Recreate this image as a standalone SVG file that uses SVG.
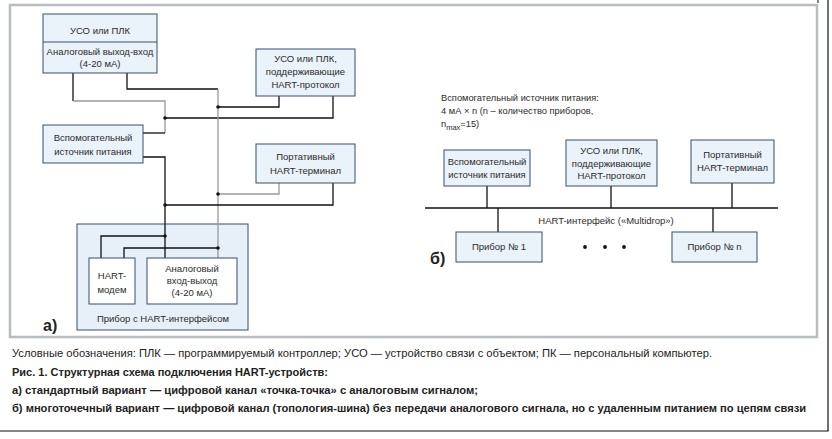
<svg xmlns="http://www.w3.org/2000/svg" width="832" height="439" viewBox="0 0 832 439">
<style>
.box{fill:#eaf2fa;stroke:#34506c;stroke-width:1}
.wbox{fill:#ffffff;stroke:#34506c;stroke-width:1}
.dev{fill:#e7f0f8;stroke:#34506c;stroke-width:1}
.t{font-family:"Liberation Sans",Arial,sans-serif;font-size:9.5px;fill:#2b2b2b;text-anchor:middle}
.tl{font-family:"Liberation Sans",Arial,sans-serif;font-size:9.3px;fill:#2b2b2b}
.lbl{font-family:"Liberation Sans Narrow","Liberation Sans",Arial,sans-serif;font-size:16px;font-weight:bold;fill:#222}
.k{fill:none;stroke:#111;stroke-width:1.3}
.g{fill:none;stroke:#9a9a9a;stroke-width:1.3}
.dot{fill:#111}
.cap{font-family:"Liberation Sans Narrow","Liberation Sans",Arial,sans-serif;font-size:11.5px;fill:#222}
.capb{font-family:"Liberation Sans Narrow","Liberation Sans",Arial,sans-serif;font-size:11px;font-weight:bold;fill:#222}
</style>
<rect x="0" y="0" width="832" height="439" fill="#ffffff"/>
<rect x="10" y="5" width="807" height="332" fill="#ffffff" stroke="#b8bdc2" stroke-width="2.5"/>
<line x1="828" y1="0" x2="828" y2="431" stroke="#111" stroke-width="1.2"/>
<line x1="0" y1="431" x2="828.6" y2="431" stroke="#111" stroke-width="1.2"/>
<line x1="818" y1="0" x2="818" y2="3" stroke="#111" stroke-width="1"/>

<g id="device-a">
<rect class="dev" x="77" y="224" width="171" height="106"/>
<text class="t" x="163" y="322">Прибор с HART-интерфейсом</text>
</g>

<g id="connectors">
<path class="k" d="M73,73 V101"/>
<path class="g" d="M73,101 H165 V133"/>
<path class="k" d="M165,133 H143"/>
<path class="k" d="M165,118 H333 V96"/>
<path class="k" d="M127,73 V89 H218"/>
<path class="g" d="M218,89 V258"/>
<path class="k" d="M218,107 H279 V96"/>
<path class="g" d="M218,194 H279 V183"/>
<path class="k" d="M143,157 H165 V258"/>
<path class="k" d="M165,205 H333 V183"/>
<path class="k" d="M165,236 H101 V258"/>
<path class="k" d="M218,248 H124 V258"/>
<circle class="dot" cx="165" cy="118" r="1.8"/>
<circle class="dot" cx="218" cy="107" r="1.8"/>
<circle class="dot" cx="218" cy="194" r="1.8"/>
<circle class="dot" cx="165" cy="205" r="1.8"/>
<circle class="dot" cx="165" cy="236" r="1.8"/>
<circle class="dot" cx="218" cy="248" r="1.8"/>

<path class="k" d="M425,208 H778"/>
<path class="k" d="M487,186 V208"/>
<path class="k" d="M611,186 V208"/>
<path class="k" d="M732,183 V208"/>
<path class="k" d="M498,208 V232"/>
<path class="k" d="M713,208 V232"/>
</g>

<g id="uso-plk-a">
<rect class="box" x="43" y="14" width="114" height="59"/>
<line x1="43" y1="42" x2="157" y2="42" stroke="#34506c" stroke-width="1"/>
<text class="t" x="100" y="34">УСО или ПЛК</text>
<text class="t" x="100" y="55">Аналоговый выход-вход</text>
<text class="t" x="100" y="67">(4-20 мА)</text>
</g>

<g id="uso-hart-a">
<rect class="box" x="256" y="49" width="99" height="47"/>
<text class="t" x="305.500" y="62">УСО или ПЛК,</text>
<text class="t" x="305.500" y="75">поддерживающие</text>
<text class="t" x="305.500" y="88">HART-протокол</text>
</g>

<g id="power-a">
<rect class="box" x="43" y="125" width="100" height="38"/>
<text class="t" x="93" y="141">Вспомогательный</text>
<text class="t" x="93" y="155">источник питания</text>
</g>

<g id="terminal-a">
<rect class="box" x="256" y="144" width="99" height="39"/>
<text class="t" x="305.500" y="160">Портативный</text>
<text class="t" x="305.500" y="174">HART-терминал</text>
</g>

<g id="modem-a">
<rect class="wbox" x="89" y="258" width="46" height="46"/>
<text class="t" x="112" y="279">HART-</text>
<text class="t" x="112" y="293">модем</text>
</g>

<g id="analog-a">
<rect class="wbox" x="147" y="258" width="90" height="46"/>
<text class="t" x="192" y="272">Аналоговый</text>
<text class="t" x="192" y="284">вход-выход</text>
<text class="t" x="192" y="296">(4-20 мА)</text>
</g>

<text class="lbl" x="43" y="331">а)</text>

<g id="note-b">
<text class="tl" x="441" y="101">Вспомогательный источник питания:</text>
<text class="tl" x="441" y="114">4 мА × n (n – количество  приборов,</text>
<text class="tl" x="441" y="127">n<tspan font-size="7.5px" dy="2.5">max</tspan><tspan dy="-2.5">=15)</tspan></text>
</g>

<g id="power-b">
<rect class="box" x="444" y="150" width="86" height="36"/>
<text class="t" x="487" y="165">Вспомогательный</text>
<text class="t" x="487" y="178">источник питания</text>
</g>

<g id="uso-hart-b">
<rect class="box" x="566" y="140" width="91" height="46"/>
<text class="t" x="611.500" y="154">УСО или ПЛК,</text>
<text class="t" x="611.500" y="166.500">поддерживающие</text>
<text class="t" x="611.500" y="179">HART-протокол</text>
</g>

<g id="terminal-b">
<rect class="box" x="691" y="140" width="83" height="43"/>
<text class="t" x="732.500" y="158">Портативный</text>
<text class="t" x="732.500" y="171">HART-терминал</text>
</g>

<text class="t" x="606" y="224">HART-интерфейс («Multidrop»)</text>

<g id="device1-b">
<rect class="box" x="456" y="232" width="86" height="30"/>
<text class="t" x="499" y="250">Прибор № 1</text>
</g>

<g id="devicen-b">
<rect class="box" x="672" y="232" width="85" height="30"/>
<text class="t" x="714.500" y="250">Прибор № n</text>
</g>

<g id="ellipsis">
<circle class="dot" cx="585" cy="247" r="1.9"/>
<circle class="dot" cx="605" cy="247" r="1.9"/>
<circle class="dot" cx="624" cy="247" r="1.9"/>
</g>

<text class="lbl" x="430" y="264">б)</text>

<g id="caption">
<text class="cap" x="12" y="357" textLength="700" lengthAdjust="spacingAndGlyphs">Условные обозначения: ПЛК — программируемый контроллер; УСО — устройство связи с объектом; ПК — персональный компьютер.</text>
<text class="capb" x="12" y="376" textLength="316" lengthAdjust="spacingAndGlyphs">Рис. 1. Структурная схема подключения HART-устройств:</text>
<text class="capb" x="12" y="394" textLength="466" lengthAdjust="spacingAndGlyphs">а) стандартный вариант — цифровой канал «точка-точка» с аналоговым сигналом;</text>
<text class="capb" x="12" y="412" textLength="794" lengthAdjust="spacingAndGlyphs">б) многоточечный вариант — цифровой канал (топология-шина) без передачи аналогового сигнала, но с удаленным питанием по цепям связи</text>
</g>
</svg>
